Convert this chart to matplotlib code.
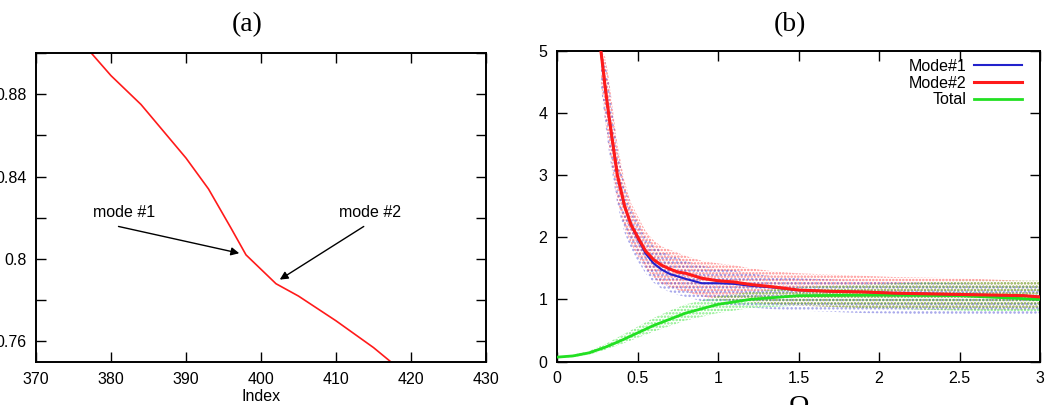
import numpy as np
import matplotlib
matplotlib.use("Agg")
import matplotlib.pyplot as plt
from matplotlib.ticker import MultipleLocator, FuncFormatter

plt.rcParams['font.family'] = ['Liberation Sans', 'DejaVu Sans']
plt.rcParams['hatch.linewidth'] = 1.2

# ── panel (a): index vs value near the mode crossing ──────────
index_a = [377, 380, 384, 387, 390, 393, 396, 398, 400, 402, 405, 410, 415, 418]
value_a = [0.9015, 0.889, 0.875, 0.862, 0.849, 0.834, 0.815, 0.802, 0.795,
           0.788, 0.782, 0.770, 0.757, 0.748]

# ── panel (b): Omega sweep, mode lines and scatter envelopes ──
omega = [0.273, 0.30, 0.32, 0.35, 0.375, 0.42, 0.46, 0.50, 0.55, 0.60, 0.65,
         0.70, 0.75, 0.80, 0.90, 1.00, 1.10, 1.20, 1.35, 1.50, 1.70, 1.90,
         2.10, 2.30, 2.50, 2.70, 2.90, 3.00]
mode2 = [5.0, 4.4, 4.0, 3.45, 3.0, 2.5, 2.2, 2.01, 1.78, 1.64, 1.55, 1.49,
         1.44, 1.42, 1.34, 1.30, 1.28, 1.24, 1.20, 1.15, 1.13, 1.12, 1.10,
         1.09, 1.08, 1.07, 1.06, 1.04]
mode1 = [5.0, 4.4, 4.0, 3.45, 3.0, 2.5, 2.2, 1.99, 1.74, 1.58, 1.48, 1.41,
         1.37, 1.33, 1.26, 1.26, 1.25, 1.22, 1.19, 1.15, 1.13, 1.12, 1.10,
         1.09, 1.08, 1.07, 1.06, 1.04]
modes_hi = [5.0, 4.9, 4.6, 4.0, 3.5, 2.9, 2.55, 2.35, 2.1, 1.95, 1.85, 1.8,
            1.75, 1.7, 1.62, 1.58, 1.55, 1.5, 1.45, 1.42, 1.4, 1.38, 1.36,
            1.35, 1.34, 1.32, 1.3, 1.3]
modes_lo = [4.5, 3.9, 3.5, 3.0, 2.6, 2.15, 1.9, 1.7, 1.5, 1.35, 1.25, 1.2,
            1.15, 1.12, 1.05, 1.0, 0.98, 0.95, 0.92, 0.9, 0.88, 0.86, 0.85,
            0.84, 0.84, 0.84, 0.84, 0.85]

omega_t = [0.0, 0.1, 0.2, 0.3, 0.4, 0.5, 0.6, 0.7, 0.8, 1.0, 1.2, 1.5, 2.0,
           2.5, 3.0]
total = [0.07, 0.09, 0.14, 0.23, 0.34, 0.46, 0.58, 0.68, 0.78, 0.92, 1.0,
         1.06, 1.07, 1.06, 1.0]
total_hi = [0.08, 0.11, 0.17, 0.28, 0.42, 0.56, 0.70, 0.82, 0.92, 1.05, 1.12,
            1.2, 1.25, 1.3, 1.3]
total_lo = [0.06, 0.07, 0.11, 0.19, 0.28, 0.38, 0.48, 0.57, 0.66, 0.78, 0.86,
            0.9, 0.85, 0.82, 0.8]

W, H = 1048, 405
fig = plt.figure(figsize=(W/100, H/100), dpi=100)

def box(l, t, r, b):
    return [l/W, 1 - b/H, (r - l)/W, (b - t)/H]

def style(ax):
    ax.tick_params(which='both', direction='in', length=7, width=1,
                   top=True, right=True, labelsize=11.5, pad=7)
    for s in ax.spines.values():
        s.set_linewidth(1.4)

RED = '#ff1a1a'; BLUE = '#2222cc'; GREEN = '#22e022'
ARROW = dict(arrowstyle='-|>', color='black', lw=1.0, mutation_scale=12,
             shrinkA=0, shrinkB=0)

# ── Panel (a) ─────────────────────────────────────────────────
ax = fig.add_axes(box(36, 53, 486, 362))
ax.plot(index_a, value_a, color=RED, lw=1.2)
ax.set_xlim(370, 430)
ax.set_ylim(0.75, 0.90)
ax.xaxis.set_major_locator(MultipleLocator(10))
ax.yaxis.set_major_locator(MultipleLocator(0.04))
ax.yaxis.set_minor_locator(MultipleLocator(0.02))
ax.yaxis.set_major_formatter(FuncFormatter(lambda v, p: f'{v:g}'))
style(ax)
ax.set_xlabel('Index', fontsize=11.5)
ax.xaxis.set_label_coords(0.5, -0.113)
ax.xaxis.label.set_va('center')

ax.annotate('', xy=(397.1, 0.8028), xytext=(381, 0.8158), arrowprops=ARROW)
ax.text(377.6, 0.8224, 'mode #1', fontsize=11.5, va='center', ha='left')
ax.annotate('', xy=(402.5, 0.790), xytext=(413.7, 0.8158), arrowprops=ARROW)
ax.text(410.4, 0.8224, 'mode #2', fontsize=11.5, va='center', ha='left')
fig.text(247.5/W, 1 - 25/H, '(a)', family='Liberation Serif', fontsize=20,
         ha='center', va='center')

# ── Panel (b) ─────────────────────────────────────────────────
bx = fig.add_axes(box(557, 51, 1040, 361.5))
bx.fill_between(omega, modes_lo, modes_hi, facecolor='none', edgecolor=RED,
                hatch='.....', linewidth=0, alpha=0.5)
bx.fill_between(omega, [v - 0.08 for v in modes_lo],
                [v - 0.08 for v in modes_hi], facecolor='none',
                edgecolor=BLUE, hatch='....', linewidth=0, alpha=0.4)
bx.fill_between(omega_t, total_lo, total_hi, facecolor='none',
                edgecolor=GREEN, hatch='.....', linewidth=0, alpha=0.55)
bx.plot(omega_t, total, color=GREEN, lw=2.0, label='Total', zorder=3)
bx.plot(omega, mode1, color=BLUE, lw=1.5, label='Mode#1', zorder=4)
bx.plot(omega, mode2, color=RED, lw=2.2, label='Mode#2', zorder=5)
bx.set_xlim(0, 3)
bx.set_ylim(0, 5)
bx.xaxis.set_major_locator(MultipleLocator(0.5))
bx.yaxis.set_major_locator(MultipleLocator(1))
bx.xaxis.set_major_formatter(FuncFormatter(lambda v, p: f'{v:g}'))
style(bx)
bx.set_xlabel('Ω', family='Liberation Serif', fontsize=20)
bx.xaxis.set_label_coords(0.5, -0.108)
bx.xaxis.label.set_va('top')

h, l = bx.get_legend_handles_labels()
order = [l.index('Mode#1'), l.index('Mode#2'), l.index('Total')]
bx.legend([h[i] for i in order], [l[i] for i in order], loc='upper right',
          markerfirst=False, frameon=False, fontsize=11.5, handlelength=3.0,
          labelspacing=0.1, handletextpad=0.5, borderaxespad=0.3,
          bbox_to_anchor=(0.986, 1.01))
fig.text(790/W, 1 - 25/H, '(b)', family='Liberation Serif', fontsize=20,
         ha='center', va='center')

fig.savefig('out.png', dpi=100)
